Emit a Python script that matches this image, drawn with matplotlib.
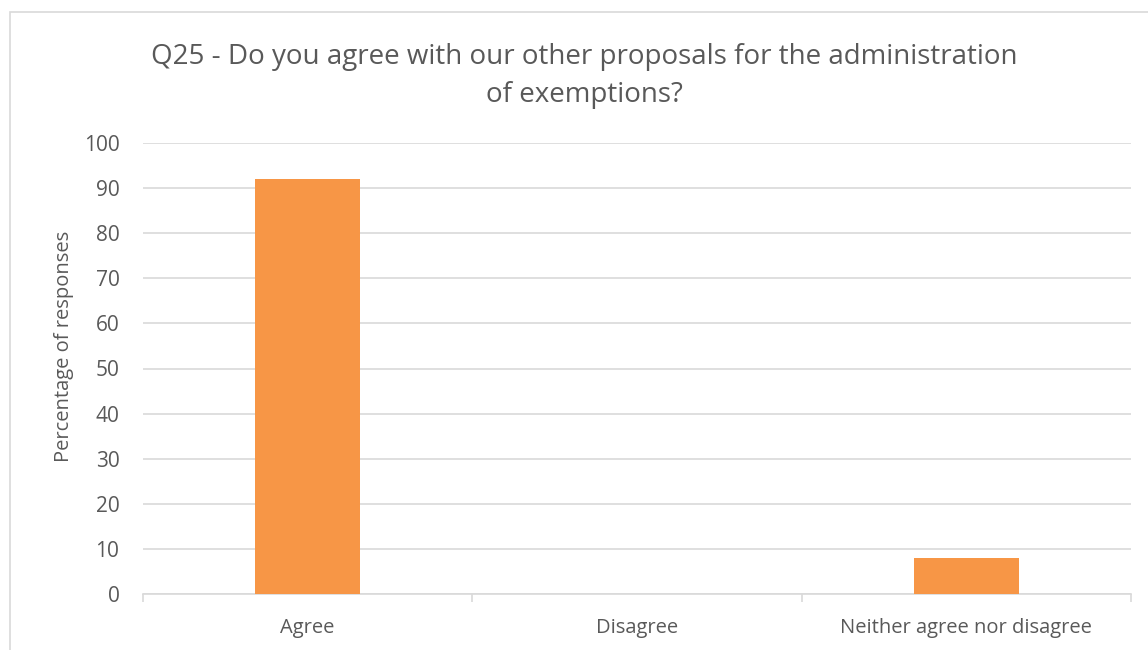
import matplotlib.pyplot as plt
from matplotlib.patches import Rectangle

categories = ['Agree', 'Disagree', 'Neither agree nor disagree']
percentages = [92.1, 0.0, 7.9]

plt.rcParams['font.family'] = ['Open Sans', 'DejaVu Sans']

W, H = 1148, 650
fig = plt.figure(figsize=(W / 100, H / 100), dpi=100)

# chart frame, runs off the right and bottom edges
fig.patches.append(Rectangle((10 / W, -0.05), 1.1, 1 - 12 / H + 0.05,
                             transform=fig.transFigure, fill=False,
                             edgecolor='#d9d9d9', linewidth=1.2))

left, right = 143 / W, 1131 / W
bottom, top = 1 - 594 / H, 1 - 143 / H
ax = fig.add_axes([left, bottom, right - left, top - bottom])

x = range(len(categories))
ax.bar(x, percentages, width=0.32, color='#f79646', zorder=3)

ax.set_xlim(-0.5, len(categories) - 0.5)
ax.set_ylim(0, 100)
ax.set_yticks(range(0, 101, 10))
ax.set_xticks(list(x))
ax.set_xticklabels(categories)
ax.grid(axis='y', color='#d9d9d9', linewidth=1.2, zorder=0)

# category separators on the x axis
ax.set_xticks([-0.5, 0.5, 1.5, 2.5], minor=True)
ax.tick_params(axis='x', which='minor', length=6, color='#d9d9d9', width=1.2)
ax.tick_params(axis='x', which='major', length=0, pad=17, labelsize=14.5, labelcolor='#595959')
ax.tick_params(axis='y', length=0, pad=17, labelsize=15, labelcolor='#595959')

for s in ['top', 'right', 'left']:
    ax.spines[s].set_visible(False)
ax.spines['bottom'].set_color('#d9d9d9')
ax.spines['bottom'].set_linewidth(1.2)

ax.set_ylabel('Percentage of responses', fontsize=14.5, color='#595959')
ax.yaxis.set_label_coords(-0.07, 0.55)

fig.text(584 / W, 1 - 76 / H,
         'Q25 - Do you agree with our other proposals for the administration\nof exemptions?',
         ha='center', va='center', fontsize=20, color='#595959', linespacing=1.45)

fig.savefig('out.png', dpi=100)
